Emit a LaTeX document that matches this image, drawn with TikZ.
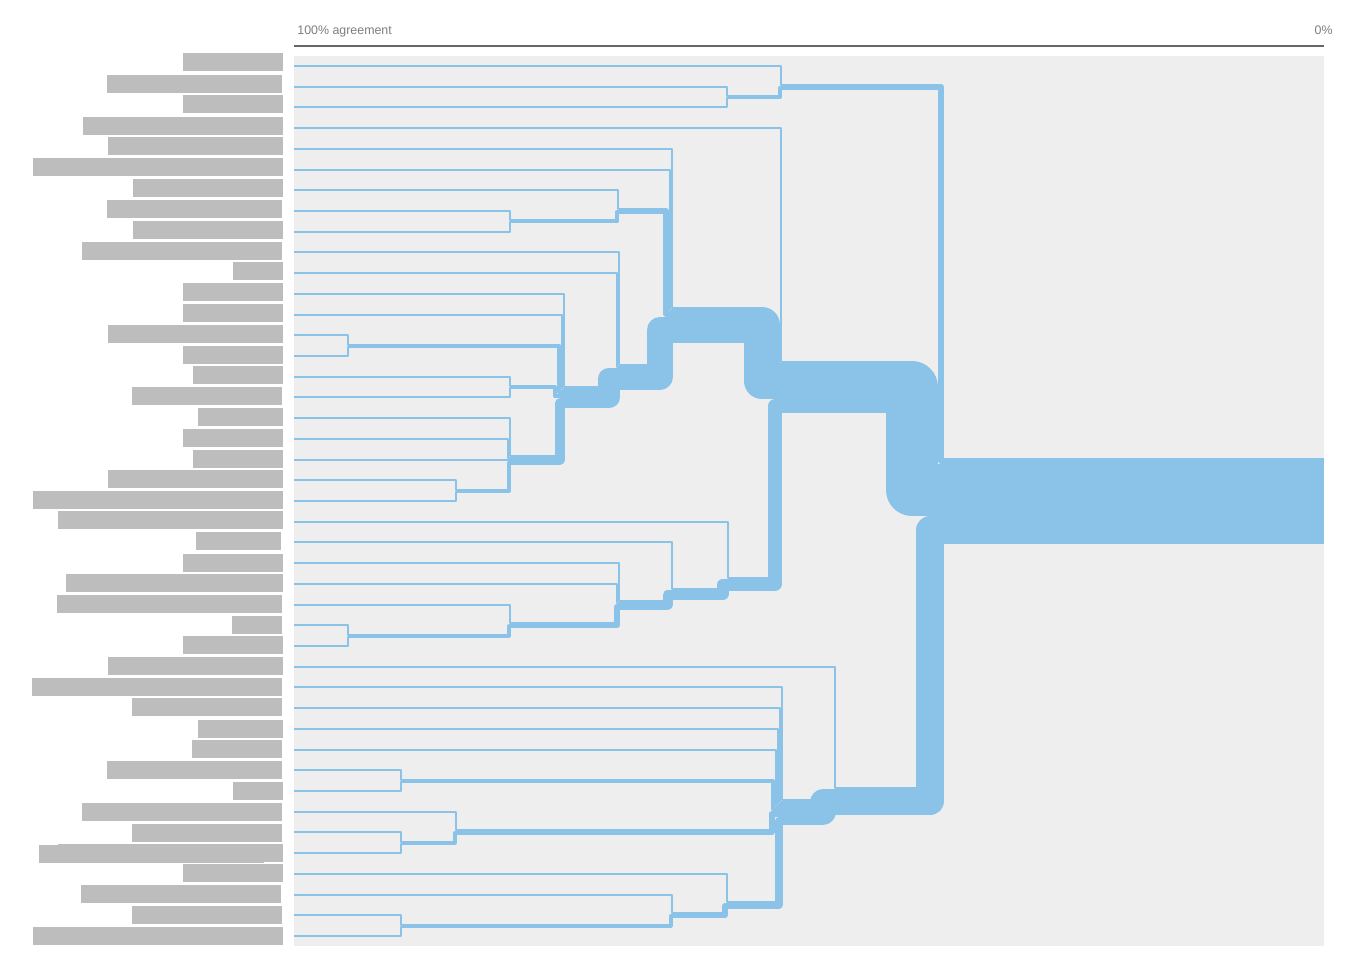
\documentclass[tikz,border=0pt]{standalone}
\usepackage{fontspec}
\setmainfont{Liberation Sans}
\usepackage{xcolor}
\usepackage{tikz}

\definecolor{treeblue}{RGB}{139,195,232}
\definecolor{panelgray}{RGB}{238,238,238}
\definecolor{bargray}{RGB}{189,189,189}
\definecolor{axisgray}{RGB}{102,102,102}
\definecolor{textgray}{RGB}{125,125,125}

\begin{document}
\begin{tikzpicture}[
		x=0.5pt, y=-0.5pt,
		branch/.style={
			draw=treeblue,
			line join=round,
			line cap=butt
		},
		labelbar/.style={
			fill=bargray
		},
		scalelabel/.style={
			font=\fontsize{6.2}{7}\selectfont,
			text=textgray,
			inner sep=0pt
		}
		]
		
		\useasboundingbox (0,0) rectangle (1359,971);
		
		% Panel and scale
		\fill[panelgray] (294,56) rectangle (1324,946);
		\draw[axisgray, line width=1pt] (294,46) -- (1324,46);
		\node[scalelabel, anchor=base west] (full) at (297,34) {100\% agreement};
		\node[scalelabel, anchor=base east] (none) at (1333,34) {0\%};
		
		% Label bars
		\foreach \yc/\xl/\xr in {62/183/283, 84/107/282, 104/183/283, 126/83/283,
			146/108/283, 167/33/283, 188/133/283, 209/107/282, 230/133/283,
			251/82/282, 271/233/283, 292/183/283, 313/183/283, 334/108/283,
			355/183/283, 375/193/283, 396/132/282, 417/198/283, 438/183/283,
			459/193/283, 479/108/283, 500/33/283, 520/58/283, 541/196/281,
			563/183/283, 583/66/283, 604/57/282, 625/232/282, 645/183/283,
			666/108/283, 687/32/282, 707/132/282, 729/198/283, 749/192/282,
			770/107/282, 791/233/283, 812/82/282, 833/132/282, 853/58/283,
			854/39/264, 873/183/283, 894/81/281, 915/132/282, 936/33/283}
		\fill[labelbar] (\xl,{\yc-9}) rectangle (\xr,{\yc+9});
		
		% Root band
		\draw[branch, line width=43pt] (944,501) -- (1324,501);
		
		% Branches: child leaves / parent leaves / start x / bend x / parent x
		\foreach \ca/\cb/\pa/\pb/\xc/\xv/\xp in {
			1/3/1/43/782/941/944, 4/29/1/43/782/912/944, 30/43/1/43/836/930/944,
			1/1/1/3/294/781/782, 2/3/1/3/727.5/780/782,
			2/2/2/3/294/726.5/727.5, 3/3/2/3/294/726.5/727.5,
			4/4/4/29/294/781/782, 5/22/4/29/673/762/782, 23/29/4/29/728.5/775/782,
			5/5/5/22/294/672/673, 6/6/5/22/294/670/673,
			7/9/5/22/619/666/673, 10/22/5/22/620/660/673,
			7/7/7/9/294/618/619, 8/9/7/9/510.5/617/619,
			8/8/8/9/294/509.5/510.5, 9/9/8/9/294/509.5/510.5,
			10/10/10/22/294/619/620, 11/11/10/22/294/617/620, 12/22/10/22/565/609/620,
			12/12/12/22/294/564/565, 13/13/12/22/294/562/565,
			14/15/12/22/348.5/559/565, 16/17/12/22/510.5/555/565,
			18/22/12/22/511/560/565,
			14/14/14/15/294/347.5/348.5, 15/15/14/15/294/347.5/348.5,
			16/16/16/17/294/509.5/510.5, 17/17/16/17/294/509.5/510.5,
			18/18/18/22/294/510/511, 19/19/18/22/294/508/511,
			20/20/18/22/294/506/511, 21/22/18/22/456.5/509/511,
			21/21/21/22/294/455.5/456.5, 22/22/21/22/294/455.5/456.5,
			23/23/23/29/294/727.5/728.5, 24/29/23/29/672.5/722.5/728.5,
			24/24/24/29/294/671.5/672.5, 25/29/24/29/620/667.5/672.5,
			25/25/25/29/294/619/620, 26/26/25/29/294/617/620, 27/29/25/29/511/617/620,
			27/27/27/29/294/510/511, 28/29/27/29/348.5/509/511,
			28/28/28/29/294/347.5/348.5, 29/29/28/29/294/347.5/348.5,
			30/30/30/43/294/835/836, 31/43/30/43/782.5/823/836,
			31/31/31/43/294/781.5/782.5, 32/32/31/43/294/779.5/782.5,
			33/33/31/43/294/777.5/782.5, 34/34/31/43/294/775.5/782.5,
			35/36/31/43/401.5/772.5/782.5, 37/39/31/43/456.5/771.5/782.5,
			40/43/31/43/728/778.5/782.5,
			35/35/35/36/294/400.5/401.5, 36/36/35/36/294/400.5/401.5,
			37/37/37/39/294/455.5/456.5, 38/39/37/39/401.5/454.5/456.5,
			38/38/38/39/294/400.5/401.5, 39/39/38/39/294/400.5/401.5,
			40/40/40/43/294/727/728, 41/43/40/43/672.5/725/728,
			41/41/41/43/294/671.5/672.5, 42/43/41/43/401.5/670.5/672.5,
			42/42/42/43/294/400.5/401.5, 43/43/42/43/294/400.5/401.5}
		{
			\pgfmathsetmacro\cy{66+((\ca+\cb)/2-1)*20.714}
			\pgfmathsetmacro\nn{\cb-\ca+1}
			\pgfmathsetmacro\sy{66+((\pa+\pb)/2-1)*20.714-(\pb-\pa+1)+2*(\ca-\pa)+\nn}
			\draw[branch, line width=\nn pt] (\xc,\cy) -- (\xv,\cy) -- (\xv,\sy) -- (\xp,\sy);
		}
		
	\end{tikzpicture}
\end{document}
